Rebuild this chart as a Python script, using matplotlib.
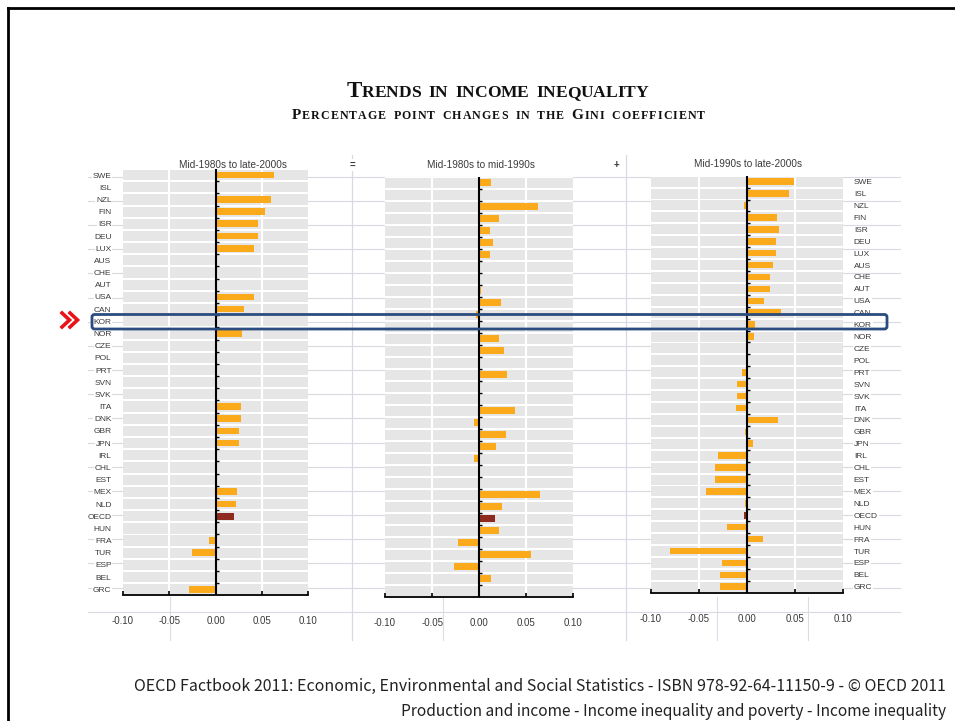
import numpy as np
import matplotlib
matplotlib.use("Agg")
import matplotlib.pyplot as plt
from matplotlib.transforms import IdentityTransform
from matplotlib.patches import FancyBboxPatch

nan = np.nan

countries = ["SWE", "ISL", "NZL", "FIN", "ISR", "DEU", "LUX", "AUS", "CHE", "AUT",
             "USA", "CAN", "KOR", "NOR", "CZE", "POL", "PRT", "SVN", "SVK", "ITA",
             "DNK", "GBR", "JPN", "IRL", "CHL", "EST", "MEX", "NLD", "OECD", "HUN",
             "FRA", "TUR", "ESP", "BEL", "GRC"]

# Mid-1980s to late-2000s
chg_80s_00s = [0.063, nan, 0.060, 0.053, 0.046, 0.046, 0.041, nan, nan, nan,
               0.041, 0.031, nan, 0.029, nan, nan, nan, nan, nan, 0.028,
               0.028, 0.025, 0.025, nan, nan, nan, 0.023, 0.022, 0.020, 0.002,
               -0.007, -0.025, nan, nan, -0.029]
# Mid-1980s to mid-1990s
chg_80s_90s = [0.013, nan, 0.062, 0.021, 0.012, 0.015, 0.012, nan, nan, 0.002,
               0.023, -0.003, nan, 0.021, 0.026, nan, 0.030, nan, nan, 0.038,
               -0.005, 0.028, 0.018, -0.006, nan, nan, 0.065, 0.024, 0.017, 0.021,
               -0.022, 0.055, -0.027, 0.013, nan]
# Mid-1990s to late-2000s
chg_90s_00s = [0.049, 0.044, -0.003, 0.032, 0.034, 0.030, 0.030, 0.027, 0.024, 0.024,
               0.018, 0.036, 0.009, 0.008, nan, nan, -0.005, -0.010, -0.010, -0.011,
               0.033, -0.002, 0.007, -0.030, -0.033, -0.033, -0.042, -0.002, -0.003, -0.021,
               0.017, -0.080, -0.026, -0.028, -0.028]

panel_titles = ["Mid-1980s to late-2000s", "Mid-1980s to mid-1990s", "Mid-1990s to late-2000s"]
xticks = [-0.10, -0.05, 0.00, 0.05, 0.10]
xtick_labels = ["-0.10", "-0.05", "0.00", "0.05", "0.10"]

title = "Trends in income inequality"
subtitle = "Percentage point changes in the Gini coefficient"
footer1 = "OECD Factbook 2011: Economic, Environmental and Social Statistics - ISBN 978-92-64-11150-9 - \u00a9 OECD 2011"
footer2 = "Production and income - Income inequality and poverty - Income inequality"

ORANGE = "#FBAA1C"
DARKRED = "#8E2B1E"
BAND = "#E6E6E6"
TXT = "#3a3a3a"

W, H = 955, 721
fig = plt.figure(figsize=(W / 100, H / 100), dpi=100)
plt.rcParams["font.family"] = ["Liberation Sans", "DejaVu Sans"]


def px_axes(x0, y0, x1, y1, **kw):
    return fig.add_axes([x0 / W, 1 - y1 / H, (x1 - x0) / W, (y1 - y0) / H], **kw)


# background layer in pixel coordinates
bg = px_axes(0, 0, W, H)
bg.set_xlim(0, W)
bg.set_ylim(H, 0)
bg.axis("off")
bg.plot([8, W + 5], [8, 8], color="black", lw=2)
bg.plot([8, 8], [8, H + 5], color="black", lw=2)
for k in range(19):
    yy = 176.7 + 24.17 * k
    bg.plot([88, 900], [yy, yy], color="#d9d9e2", lw=0.8)
for xx in [352, 626]:
    bg.plot([xx, xx], [155, 640], color="#d9d9e6", lw=0.9)
for xx in [170, 443, 717, 808]:
    bg.plot([xx, xx], [597, 640], color="#dcdce8", lw=0.8)

# panels: pixel boxes
boxes = [(122.7, 169.0, 308.3, 595.4),
         (385.0, 176.7, 573.3, 596.7),
         (650.7, 175.7, 842.7, 592.7)]
series = [chg_80s_00s, chg_80s_90s, chg_90s_00s]
title_pos = [(233, 165), (481, 165), (748, 164)]

rows = np.arange(len(countries))
for i, (box, vals) in enumerate(zip(boxes, series)):
    ax = px_axes(*box)
    ax.set_facecolor("white")
    ax.set_xlim(-0.1, 0.1)
    ax.set_ylim(len(countries) - 0.5, -0.5)
    ax.barh(rows, 0.2, left=-0.1, height=0.84, color=BAND, zorder=0)
    for gx in [-0.05, 0.05]:
        ax.axvline(gx, color="white", lw=1.5, zorder=1)
    vals = np.array(vals, dtype=float)
    colors = [DARKRED if c == "OECD" else ORANGE for c in countries]
    ax.barh(rows, np.nan_to_num(vals), height=0.55, color=colors, zorder=2)
    ax.axvline(0, color="black", lw=1.5, zorder=3)
    ax.hlines(rows[:-1] + 0.5, 0, 0.0035, color="black", lw=1, zorder=3)
    for sp in ["top", "left", "right"]:
        ax.spines[sp].set_visible(False)
    ax.spines["bottom"].set_linewidth(1.3)
    ax.set_xticks(xticks)
    ax.set_xticklabels(xtick_labels)
    ax.tick_params(axis="x", direction="in", length=3, width=1.2, pad=15,
                   labelsize=7, labelcolor=TXT)
    if i == 0:
        ax.set_yticks(rows)
        ax.set_yticklabels(countries)
        ax.tick_params(axis="y", length=0, pad=8, labelsize=6, labelcolor=TXT)
    elif i == 2:
        ax.yaxis.tick_right()
        ax.set_yticks(rows)
        ax.set_yticklabels(countries)
        ax.tick_params(axis="y", length=0, pad=8, labelsize=6, labelcolor=TXT)
        for lab in ax.get_yticklabels():
            lab.set_horizontalalignment("left")
    else:
        ax.set_yticks([])
    if i != 1:
        for lab in ax.get_yticklabels():
            lab.set_bbox(dict(facecolor="white", edgecolor="none", pad=0.6))
    tx, ty = title_pos[i]
    bg.text(tx, ty, panel_titles[i], ha="center", va="center", fontsize=7.2, color=TXT,
            bbox=dict(facecolor="white", edgecolor="none", pad=1), zorder=5)

bg.text(352, 165, "=", ha="center", va="center", fontsize=7, color=TXT, fontweight="bold",
        bbox=dict(facecolor="white", edgecolor="none", pad=0.5))
bg.text(616, 165, "+", ha="center", va="center", fontsize=7, color=TXT, fontweight="bold",
        bbox=dict(facecolor="white", edgecolor="none", pad=0.5))

# KOR highlight box and red chevrons (on top)
top = px_axes(0, 0, W, H)
top.set_xlim(0, W)
top.set_ylim(H, 0)
top.axis("off")
top.add_patch(FancyBboxPatch((92, 314.5), 795, 14.5, boxstyle="round,pad=0,rounding_size=2.5",
                             facecolor="none", edgecolor="#2B4C7E", lw=2))
top.plot([62, 69.5, 62], [313, 320, 327], color="#E8141B", lw=2.6, solid_joinstyle="miter")
top.plot([70, 77.5, 70], [313, 320, 327], color="#E8141B", lw=2.6, solid_joinstyle="miter")

# small caps titles, placed letter by letter and spread to the reference width
renderer = fig.canvas.get_renderer()


def smallcaps(x0, x1, ybase, text, big, small):
    objs = []
    for ch in text:
        size = big if ch.isupper() else small
        s = ch.upper() if ch != " " else "\u00a0"
        objs.append(fig.text(0, H - ybase, s, fontsize=size, family="Liberation Serif",
                             fontweight="bold", ha="left", va="baseline",
                             transform=IdentityTransform(), color="#111111"))
    widths = []
    for ch, t in zip(text, objs):
        if ch == " ":
            widths.append(small * 100 / 72 * 0.45)
        else:
            widths.append(t.get_window_extent(renderer).width)
    extra = ((x1 - x0) - sum(widths)) / (len(objs) - 1)
    x = x0
    for t, wd in zip(objs, widths):
        t.set_x(x)
        x += wd + extra


smallcaps(346.7, 648.3, 97, title, 16.5, 12.6)
smallcaps(291.7, 705, 119, subtitle, 11, 8.6)

fig.text(946 / W, 1 - 686 / H, footer1, ha="right", va="center", fontsize=11.5,
         family=["Noto Sans CJK KR", "DejaVu Sans"], color="#222222")
fig.text(946 / W, 1 - 712 / H, footer2, ha="right", va="center", fontsize=11.2,
         family=["Noto Sans CJK KR", "DejaVu Sans"], color="#222222")

fig.savefig("out.png", dpi=100)
